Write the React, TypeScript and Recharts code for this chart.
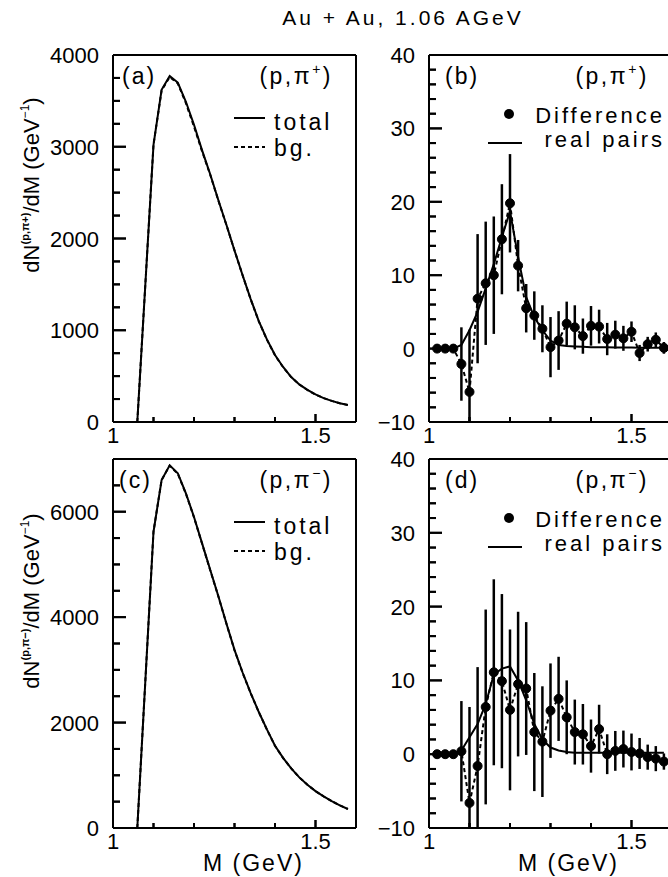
import React from "react";
import { ComposedChart, Line, XAxis, YAxis, ErrorBar, ReferenceLine } from "recharts";

const FONT = "'Liberation Sans', Arial, Helvetica, sans-serif";

// invariant mass grid for the total / background spectra (GeV)
const massTotal = [
  1.06, 1.08, 1.1, 1.12, 1.14, 1.16, 1.18, 1.2, 1.22, 1.24, 1.26, 1.28, 1.3, 1.32,
  1.34, 1.36, 1.38, 1.4, 1.42, 1.44, 1.46, 1.48, 1.5, 1.52, 1.54, 1.56, 1.58,
];
const totalPiPlus = [
  0, 1510, 3020, 3620, 3770, 3700, 3490, 3240, 2960, 2700, 2420, 2150, 1870, 1600,
  1340, 1100, 900, 730, 600, 490, 410, 350, 300, 260, 230, 205, 185,
];
const bgPiPlus = [
  0, 1512, 3026, 3613, 3761, 3690, 3475, 3220, 2949, 2695, 2416, 2147, 1870, 1599,
  1337, 1097, 898, 727, 597, 489, 408, 349, 298, 261, 230, 204, 185,
];
const totalPiMinus = [
  0, 2810, 5620, 6600, 6880, 6730, 6350, 5900, 5400, 4900, 4400, 3880, 3380, 2950,
  2560, 2200, 1870, 1560, 1330, 1130, 960, 820, 700, 600, 510, 430, 360,
];
const bgPiMinus = [
  0, 2810, 5627, 6602, 6874, 6719, 6340, 5894, 5391, 4891, 4397, 3878, 3374, 2943,
  2555, 2197, 1867, 1559, 1327, 1130, 960, 820, 700, 600, 510, 430, 361,
];

// difference spectra grid (GeV)
const massDiff = [
  1.02, 1.04, 1.06, 1.08, 1.1, 1.12, 1.14, 1.16, 1.18, 1.2, 1.22, 1.24, 1.26, 1.28,
  1.3, 1.32, 1.34, 1.36, 1.38, 1.4, 1.42, 1.44, 1.46, 1.48, 1.5, 1.52, 1.54, 1.56, 1.58,
];
const diffPiPlus = [
  0, 0, 0, -2.1, -5.9, 6.8, 8.9, 10.0, 14.9, 19.8, 11.3, 5.5, 4.5, 2.7,
  0.2, 1.1, 3.4, 2.9, 1.7, 3.1, 3.0, 1.3, 1.9, 1.4, 2.3, -0.6, 0.6, 1.2, 0.1,
];
const errPiPlus = [
  0, 0, 0, 5, 8.5, 8.8, 8.4, 8, 7.5, 6.7, 3.5, 3.3, 3.3, 3.2,
  4.1, 4, 3, 3, 2.4, 2.7, 2.3, 2.2, 1.9, 1.7, 1.4, 1.1, 1, 1, 0.8,
];
const realPiPlus = [
  0, 0, 0, 0.5, 2.5, 5, 8.2, 11.5, 15.2, 18.7, 12.5, 7, 4.3, 2.5,
  1.1, 0.5, 0.35, 0.3, 0.25, 0.2, 0.2, 0.2, 0.15, 0.15, 0.15, 0.1, 0.1, 0.1, 0.1,
];
const diffPiMinus = [
  0, 0, 0, 0.4, -6.6, -1.6, 6.4, 11.1, 9.9, 6.0, 9.5, 8.9, 3.0, 1.7,
  5.9, 7.5, 5.0, 3.0, 2.7, 1.1, 3.4, 0, 0.45, 0.7, 0.3, 0.1, -0.4, -0.6, -1.0,
];
const errPiMinus = [
  0, 0, 0, 6.8, 13, 13.4, 13.2, 12.6, 11.8, 10.9, 9.8, 9, 8, 7.5,
  6.4, 5.7, 5, 4.4, 4.1, 3.6, 3.3, 2.7, 2.7, 2.5, 2.5, 2.1, 1.7, 1.7, 1.1,
];
const realPiMinus = [
  0, 0, 0, 0.5, 2.3, 4.1, 6.8, 10.8, 11.6, 11.9, 10.0, 7.3, 4.1, 2.0,
  0.9, 0.5, 0.3, 0.2, 0.2, 0.2, 0.2, 0.2, 0.2, 0.2, 0.2, 0.2, 0.2, 0.2, 0.2,
];

const xTicks = [1, 1.1, 1.2, 1.3, 1.4, 1.5];
const xLabelled = [1, 1.5];
const yMajorPlus = [0, 1000, 2000, 3000, 4000];
const yMajorMinus = [0, 2000, 4000, 6000];
const yMajorDiff = [-10, 0, 10, 20, 30, 40];

const X_DOMAIN: [number, number] = [1, 1.6];
const PLOT_W = 243;

const steps = (lo: number, hi: number, step: number) => {
  const out: number[] = [];
  for (let v = lo; v <= hi + 1e-9; v += step) out.push(Math.round(v * 1000) / 1000);
  return out;
};

const near = (list: number[], v: number) => list.some((m) => Math.abs(m - v) < 1e-6);

const fmt = (v: number) => (v < 0 ? "\u2212" + Math.abs(v) : String(v));

// inward tick marks (longer on labelled values) plus the label outside the frame
const yTick = (majors: number[]) => (p: any) => {
  const v = p.payload.value;
  const major = near(majors, v);
  const x = Number(p.x);
  const y = Number(p.y);
  return (
    <g>
      <line x1={x} x2={x + (major ? 13 : 7)} y1={y} y2={y} stroke="#000" strokeWidth={2} />
      {major && (
        <text x={x - 14} y={y + 8} textAnchor="end" fontSize={22} fontFamily={FONT} fill="#000">
          {fmt(v)}
        </text>
      )}
    </g>
  );
};

const xTick = (p: any) => {
  const v = p.payload.value;
  const lab = near(xLabelled, v);
  const x = Number(p.x);
  const y = Number(p.y);
  return (
    <g>
      <line x1={x} x2={x} y1={y} y2={y - (lab ? 8 : 5)} stroke="#000" strokeWidth={2} />
      {lab && (
        <text x={x} y={y + 21} textAnchor="middle" fontSize={22} fontFamily={FONT} fill="#000">
          {String(v)}
        </text>
      )}
    </g>
  );
};

const axisLine = { stroke: "#000", strokeWidth: 2 };

function Panel(props: {
  id: string;
  left: number;
  top: number;
  plotLeft: number;
  plotTop: number;
  plotH: number;
  data: any[];
  yDomain: [number, number];
  yTicks: number[];
  yMajors: number[];
  clampY?: boolean;
  children: React.ReactNode;
}) {
  const { id, left, top, plotLeft, plotTop, plotH, data, yDomain, yTicks, yMajors, clampY, children } = props;
  // the same inward marks as reference segments in data units
  const perPxX = (X_DOMAIN[1] - X_DOMAIN[0]) / PLOT_W;
  const perPxY = (yDomain[1] - yDomain[0]) / plotH;
  const yMarks = yTicks.map((v) => (
    <ReferenceLine
      key={`ty${v}`}
      ifOverflow="visible"
      segment={[
        { x: X_DOMAIN[0], y: v },
        { x: X_DOMAIN[0] + (near(yMajors, v) ? 13 : 7) * perPxX, y: v },
      ]}
      stroke="#000"
      strokeWidth={2}
    />
  ));
  const xMarks = xTicks.map((v) => (
    <ReferenceLine
      key={`tx${v}`}
      ifOverflow="visible"
      segment={[
        { x: v, y: yDomain[0] },
        { x: v, y: yDomain[0] + (near(xLabelled, v) ? 8 : 5) * perPxY },
      ]}
      stroke="#000"
      strokeWidth={2}
    />
  ));
  return (
    <div style={{ position: "absolute", left, top }}>
      <svg width={0} height={0} style={{ position: "absolute" }}>
        <defs>
          <clipPath id={`plot-${id}`} clipPathUnits="userSpaceOnUse">
            <rect x={plotLeft} y={plotTop} width={PLOT_W} height={plotH} />
          </clipPath>
        </defs>
      </svg>
      <ComposedChart
        width={plotLeft + PLOT_W + 4}
        height={plotTop + plotH + 30}
        data={data}
        margin={{ top: plotTop, right: 4, bottom: 0, left: 0 }}
      >
        <XAxis
          dataKey="m"
          type="number"
          domain={X_DOMAIN}
          ticks={xTicks}
          interval={0}
          height={30}
          tickSize={0}
          tickMargin={0}
          tickLine={false}
          axisLine={axisLine}
          tick={xTick}
        />
        <YAxis
          type="number"
          domain={yDomain}
          ticks={yTicks}
          interval={0}
          allowDataOverflow={!!clampY}
          width={plotLeft}
          tickSize={0}
          tickMargin={0}
          tickLine={false}
          axisLine={axisLine}
          tick={yTick(yMajors)}
        />
        <ReferenceLine y={yDomain[1]} stroke="#000" strokeWidth={2} />
        <ReferenceLine x={X_DOMAIN[1]} stroke="#000" strokeWidth={2} />
        {children}
        {yMarks}
        {xMarks}
      </ComposedChart>
    </div>
  );
}

const dataA = massTotal.map((m, i) => ({ m, total: totalPiPlus[i], bg: bgPiPlus[i] }));
const dataC = massTotal.map((m, i) => ({ m, total: totalPiMinus[i], bg: bgPiMinus[i] }));
const dataB = massDiff.map((m, i) => ({ m, diff: diffPiPlus[i], err: errPiPlus[i], real: realPiPlus[i] }));
const dataD = massDiff.map((m, i) => ({ m, diff: diffPiMinus[i], err: errPiMinus[i], real: realPiMinus[i] }));

const totalSeries = () => [
  <Line key="total" dataKey="total" type="linear" stroke="#000" strokeWidth={2} dot={false} activeDot={false} isAnimationActive={false} />,
  <Line key="bg" dataKey="bg" type="linear" stroke="#000" strokeWidth={2} strokeDasharray="4 3" dot={false} activeDot={false} isAnimationActive={false} />,
];

const diffSeries = (id: string) => [
  <Line key="real" dataKey="real" type="linear" stroke="#000" strokeWidth={2} dot={false} activeDot={false} isAnimationActive={false} />,
  <Line
    key="diff"
    dataKey="diff"
    type="linear"
    stroke="#000"
    strokeWidth={2}
    strokeDasharray="4 3"
    dot={{ r: 4.5, fill: "#000", stroke: "#000", strokeWidth: 1, strokeDasharray: "0" }}
    activeDot={false}
    isAnimationActive={false}
  >
    <ErrorBar dataKey="err" width={0} stroke="#000" strokeWidth={2.5} direction="y" clipPath={`url(#plot-${id})`} />
  </Line>,
];

const T = { fontFamily: FONT, fill: "#000" } as const;

function Labels() {
  const reaction = (x: number, y: number, sign: string) => (
    <text x={x} y={y} textAnchor="end" fontSize={23} letterSpacing={2.5} {...T}>
      (p,π<tspan fontSize={14} dy={-10}>{sign}</tspan>
      <tspan dy={10}>)</tspan>
    </text>
  );
  const totalLegend = (dy: number) => (
    <g>
      <line x1={234} x2={265} y1={118 + dy} y2={118 + dy} stroke="#000" strokeWidth={2} />
      <text x={274} y={130 + dy} fontSize={23} letterSpacing={3} {...T}>total</text>
      <line x1={234} x2={265} y1={147 + dy} y2={147 + dy} stroke="#000" strokeWidth={2} strokeDasharray="4 3" />
      <text x={274} y={156 + dy} fontSize={23} letterSpacing={3} {...T}>bg.</text>
    </g>
  );
  const diffLegend = (dy: number) => (
    <g>
      <circle cx={509} cy={114 + dy} r={5} fill="#000" />
      <text x={665} y={123 + dy} textAnchor="end" fontSize={22} letterSpacing={3} {...T}>Difference</text>
      <line x1={488} x2={522} y1={143 + dy} y2={143 + dy} stroke="#000" strokeWidth={2} />
      <text x={665} y={147 + dy} textAnchor="end" fontSize={22} letterSpacing={3} {...T}>real pairs</text>
    </g>
  );
  const yTitle = (cy: number, sign: string) => (
    <text transform="rotate(-90)" x={-cy} y={39} textAnchor="middle" fontSize={22} {...T}>
      dN<tspan fontSize={11} fontWeight="bold" dy={-10}>(p,π{sign})</tspan>
      <tspan dy={10}>/dM (GeV</tspan>
      <tspan fontSize={12} dy={-10}>−1</tspan>
      <tspan dy={10}>)</tspan>
    </text>
  );
  return (
    <svg
      width={668}
      height={877}
      style={{ position: "absolute", left: 0, top: 0, pointerEvents: "none" }}
    >
      <text x={403} y={25} textAnchor="middle" fontSize={21} letterSpacing={3} {...T}>
        Au + Au, 1.06 AGeV
      </text>
      {yTitle(185, "+")}
      {yTitle(601, "−")}

      <text x={122} y={84} fontSize={23} letterSpacing={2} {...T}>(a)</text>
      {reaction(333, 84, "+")}
      {totalLegend(0)}

      <text x={445} y={84} fontSize={23} letterSpacing={2} {...T}>(b)</text>
      {reaction(649, 84, "+")}
      {diffLegend(0)}

      <text x={119} y={488} fontSize={23} letterSpacing={2} {...T}>(c)</text>
      {reaction(333, 488, "−")}
      {totalLegend(404)}

      <text x={445} y={488} fontSize={23} letterSpacing={2} {...T}>(d)</text>
      {reaction(649, 488, "−")}
      {diffLegend(404)}

      <text x={203} y={871} fontSize={23} letterSpacing={2} {...T}>M (GeV)</text>
      <text x={518} y={871} fontSize={23} letterSpacing={2} {...T}>M (GeV)</text>
    </svg>
  );
}

export default function App() {
  return (
    <div
      style={{
        position: "absolute",
        left: 0,
        top: 0,
        width: 668,
        height: 877,
        overflow: "hidden",
        background: "#fff",
      }}
    >
      <Labels />
      <Panel id="a" left={0} top={0} plotLeft={113} plotTop={55} plotH={367} data={dataA}
        yDomain={[0, 4000]} yTicks={steps(0, 4000, 250)} yMajors={yMajorPlus}>
        {totalSeries()}
      </Panel>
      <Panel id="b" left={360} top={0} plotLeft={69} plotTop={55} plotH={367} data={dataB}
        yDomain={[-10, 40]} yTicks={steps(-10, 40, 2)} yMajors={yMajorDiff} clampY>
        {diffSeries("b")}
      </Panel>
      <Panel id="c" left={0} top={440} plotLeft={113} plotTop={19} plotH={369} data={dataC}
        yDomain={[0, 7000]} yTicks={steps(0, 7000, 500)} yMajors={yMajorMinus}>
        {totalSeries()}
      </Panel>
      <Panel id="d" left={360} top={440} plotLeft={69} plotTop={19} plotH={369} data={dataD}
        yDomain={[-10, 40]} yTicks={steps(-10, 40, 2)} yMajors={yMajorDiff} clampY>
        {diffSeries("d")}
      </Panel>
    </div>
  );
}
